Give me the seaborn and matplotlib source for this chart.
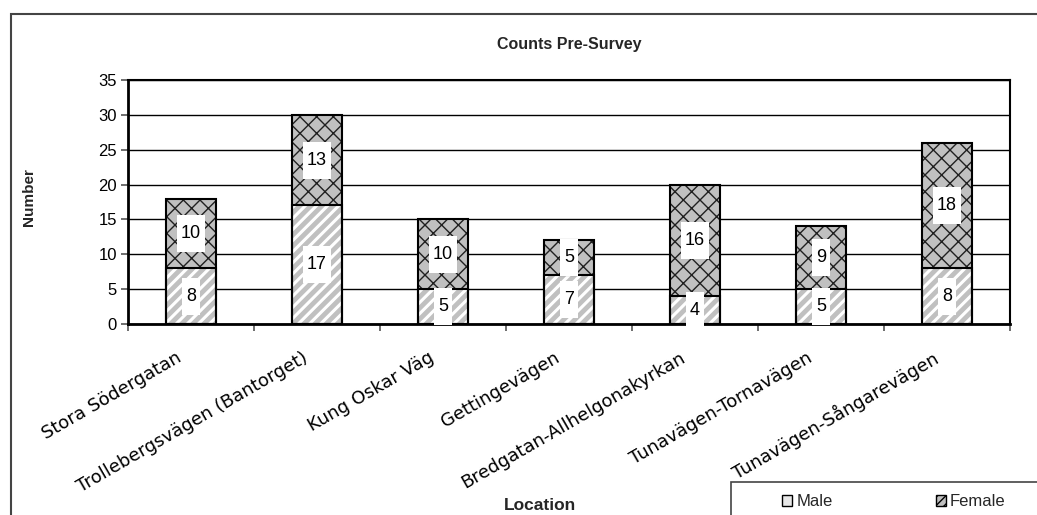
import numpy as np
import pandas as pd
import matplotlib
matplotlib.use("Agg")
import matplotlib.pyplot as plt
import matplotlib.transforms as mtransforms
import seaborn as sns
from matplotlib.path import Path
from matplotlib.patches import Rectangle, Patch

# ---- data -------------------------------------------------------------
locations = [
    "Stora Södergatan",
    "Trollebergsvägen (Bantorget)",
    "Kung Oskar Väg",
    "Gettingevägen",
    "Bredgatan-Allhelgonakyrkan",
    "Tunavägen-Tornavägen",
    "Tunavägen-Sångarevägen",
]
male = [8, 17, 5, 7, 4, 5, 8]
female = [10, 13, 10, 5, 16, 9, 18]
y_ticks = [0, 5, 10, 15, 20, 25, 30, 35]

GRAY = "#c0c0c0"
DARK = "#202020"

sns.set_theme(style="white")
plt.rcParams["font.family"] = ["Liberation Sans", "DejaVu Sans"]
plt.rcParams["hatch.linewidth"] = 1.0

df = pd.DataFrame({"Location": locations, "Male": male, "Female": female})
df["Total"] = df["Male"] + df["Female"]

W, H = 1037, 515
fig = plt.figure(figsize=(W / 100, H / 100), dpi=100)
fig.patch.set_facecolor("white")

# outer chart border
fig.add_artist(Rectangle((11 / W, -0.2), 1.2, 1.2 - 14 / H,
                         transform=fig.transFigure, fill=False,
                         edgecolor="#444444", linewidth=1.5))

left, right, top, bottom = 128 / W, 1010 / W, 1 - 80 / H, 1 - 324 / H
ax = fig.add_axes([left, bottom, right - left, top - bottom])

bar_kw = dict(x="Location", width=0.4, saturation=1, ax=ax, errorbar=None)

# female segment (drawn as the full stack, male overlays the lower part)
sns.barplot(data=df, y="Total", color=GRAY, hatch="xx", edgecolor=DARK,
            linewidth=0, **bar_kw)
n0 = len(ax.patches)
sns.barplot(data=df, y="Male", color=GRAY, hatch="///", edgecolor="white",
            linewidth=0, **bar_kw)
for i, p in enumerate(ax.patches):
    if hasattr(p, "set_hatch_linewidth"):
        p.set_hatch_linewidth(2.2 if i >= n0 else 1.0)

# black outlines of both segments
n1 = len(ax.patches)
sns.barplot(data=df, y="Total", fill=False, **bar_kw)
sns.barplot(data=df, y="Male", fill=False, **bar_kw)
for p in ax.patches[n1:]:
    p.set_facecolor("none")
    p.set_edgecolor("black")
    p.set_linewidth(1.5)
    p.set_hatch(None)


def tall_box(x0, y0, width, height, mutation_size):
    px, py = 0.22 * mutation_size, 0.55 * mutation_size
    a, b = x0 - px, y0 - py
    c, d = x0 + width + px, y0 + height + py
    return Path([(a, b), (c, b), (c, d), (a, d), (a, b)], closed=True)


for i, (m, f) in enumerate(zip(male, female)):
    for val, ypos in ((m, m / 2), (f, m + f / 2)):
        ax.text(i, ypos, str(val), ha="center", va="center", fontsize=13,
                color="black", zorder=10,
                bbox=dict(boxstyle=tall_box, facecolor="white",
                          edgecolor="none"))

ax.set_xlim(-0.5, len(locations) - 0.5)
ax.set_ylim(0, 35)
ax.set_yticks(y_ticks)
ax.set_yticklabels([str(v) for v in y_ticks], fontsize=12)
ax.set_xticks(range(len(locations)))
ax.set_xticklabels(locations, rotation=30, ha="right",
                   rotation_mode="anchor", fontsize=13,
                   family=["DejaVu Sans"])
ax.set_xticks(np.arange(-0.5, len(locations), 1), minor=True)
ax.tick_params(axis="x", which="major", length=0, pad=2)
ax.tick_params(axis="x", which="minor", length=5, width=1.2,
               color="#555555", direction="out", bottom=True)
ax.tick_params(axis="y", length=5, width=1.2, color="#555555",
               direction="out", left=True, pad=3, labelcolor="black")
ax.tick_params(axis="x", labelcolor="black")

# slanted category names sit a little left of and below each bar
shift = mtransforms.ScaledTranslation(-0.15, -0.22, fig.dpi_scale_trans)
for lab in ax.get_xticklabels():
    lab.set_transform(lab.get_transform() + shift)

ax.yaxis.grid(True, color="black", linewidth=1.0)
ax.set_axisbelow(True)
for side, sp in ax.spines.items():
    sp.set_visible(True)
    sp.set_color("black")
    sp.set_linewidth(2.0 if side in ("left", "bottom") else 1.5)

ax.set_xlabel("")
ax.set_ylabel("")
fig.text(569 / W, 1 - 44 / H, "Counts Pre-Survey", ha="center",
         va="center", fontsize=11.5, fontweight="bold")
fig.text(29 / W, 1 - 197 / H, "Number", ha="center", va="center",
         rotation=90, fontsize=11, fontweight="bold")
fig.text(540 / W, 1 - 505 / H, "Location", ha="center", va="center",
         fontsize=12.5, fontweight="bold")

# legend box, partly running off the lower right corner
fig.add_artist(Rectangle((731 / W, -0.2), 1.0, 0.2 + 1 - 482 / H,
                         transform=fig.transFigure, fill=False,
                         edgecolor="#444444", linewidth=1.2))
handles = [
    Patch(facecolor="#e8e8e8", edgecolor="black", linewidth=1.0),
    Patch(facecolor=GRAY, edgecolor="black", hatch="////", linewidth=1.0),
]
fig.legend(handles, ["Male", "Female"], loc="center left",
           bbox_to_anchor=(782 / W, 1 - 502 / H), ncol=2, frameon=False,
           fontsize=12, handlelength=0.6, handleheight=0.6,
           handletextpad=0.25, columnspacing=6.2, borderpad=0,
           borderaxespad=0)

fig.savefig("out.png", dpi=100)
